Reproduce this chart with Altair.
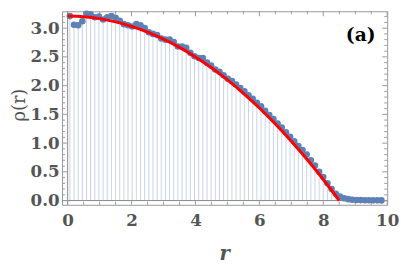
import altair as alt
import pandas as pd

# ---- data ----
r_vals = [0.07, 0.20, 0.33, 0.46, 0.59, 0.72, 0.85, 0.98, 1.11, 1.24,
          1.37, 1.50, 1.63, 1.76, 1.89, 2.02, 2.15, 2.28, 2.41, 2.54,
          2.67, 2.80, 2.93, 3.06, 3.19, 3.32, 3.45, 3.58, 3.71, 3.84,
          3.97, 4.10, 4.23, 4.36, 4.49, 4.62, 4.75, 4.88, 5.01, 5.14,
          5.27, 5.40, 5.53, 5.66, 5.79, 5.92, 6.05, 6.18, 6.31, 6.44,
          6.57, 6.70, 6.83, 6.96, 7.09, 7.22, 7.35, 7.48, 7.61, 7.74,
          7.87, 8.00, 8.13, 8.26, 8.39, 8.52, 8.65, 8.78, 8.91, 9.04,
          9.17, 9.30, 9.43, 9.56, 9.69, 9.82]
rho_vals = [3.21, 3.06, 3.05, 3.12, 3.25, 3.24, 3.19, 3.20, 3.15, 3.19,
            3.21, 3.18, 3.13, 3.07, 3.05, 3.03, 3.07, 3.05, 3.00, 2.93,
            2.90, 2.88, 2.82, 2.80, 2.80, 2.76, 2.68, 2.68, 2.66, 2.57,
            2.51, 2.48, 2.48, 2.40, 2.35, 2.28, 2.24, 2.18, 2.12, 2.08,
            2.02, 1.96, 1.90, 1.83, 1.77, 1.70, 1.64, 1.56, 1.49, 1.42,
            1.34, 1.27, 1.19, 1.11, 1.03, 0.95, 0.88, 0.80, 0.70, 0.61,
            0.50, 0.41, 0.30, 0.20, 0.12, 0.07, 0.04, 0.025, 0.015, 0.01,
            0.008, 0.006, 0.005, 0.004, 0.004, 0.003]

fit_r = [0.0, 0.5, 1.0, 1.5, 2.0, 2.5, 3.0, 3.5, 4.0, 4.5,
         5.0, 5.5, 6.0, 6.5, 7.0, 7.5, 8.0, 8.5]
fit_rho = [3.21, 3.199, 3.166, 3.110, 3.032, 2.932, 2.810, 2.666, 2.499, 2.310,
           2.099, 1.866, 1.611, 1.333, 1.033, 0.711, 0.367, 0.0]

x_major = [0, 2, 4, 6, 8, 10]
x_minor = [0.5, 1, 1.5, 2.5, 3, 3.5, 4.5, 5, 5.5, 6.5, 7, 7.5, 8.5, 9, 9.5]
y_major = [0, 0.5, 1.0, 1.5, 2.0, 2.5, 3.0]
y_minor = [0.1, 0.2, 0.3, 0.4, 0.6, 0.7, 0.8, 0.9, 1.1, 1.2, 1.3, 1.4,
           1.6, 1.7, 1.8, 1.9, 2.1, 2.2, 2.3, 2.4, 2.6, 2.7, 2.8, 2.9,
           3.1, 3.2]

label_text = ["(a)"]
label_x = [9.17]
label_y = [2.88]

# ---- chart ----
W, H = 331, 197
FONT = "DejaVu Serif"
GRAY = "#555555"
FRAME = "#999999"
BLUE = "#5E81B5"

xscale = alt.Scale(domain=[-0.175, 10], nice=False, zero=False)
yscale = alt.Scale(domain=[-0.0735, 3.294], nice=False, zero=False)

xaxis = alt.Axis(values=x_major, format="d", title="r",
                 titleFont=FONT, titleFontStyle="italic", titleFontWeight="bold",
                 titleFontSize=20, titleColor=GRAY, titleX=165, titleY=56,
                 titleBaseline="alphabetic", titleAlign="center",
                 labelFont=FONT, labelFontWeight="bold", labelFontSize=17,
                 labelColor=GRAY, labelPadding=8, ticks=False, domain=False,
                 grid=False, labelOverlap=False, labelFlush=False)
yaxis = alt.Axis(values=y_major, format=".1f", title="ρ(r)",
                 titleFont=FONT, titleFontWeight="normal", titleFontSize=18,
                 titleColor=GRAY, titleX=-43, titleY=95,
                 titleBaseline="middle", titleAlign="center",
                 labelFont=FONT, labelFontWeight="bold", labelFontSize=17,
                 labelColor=GRAY, labelPadding=3, ticks=False, domain=False,
                 grid=False, labelOverlap=False, labelFlush=False)

df = pd.DataFrame({"r": r_vals, "rho": rho_vals})
fit_df = pd.DataFrame({"r": fit_r, "rho": fit_rho})
zero_df = pd.DataFrame({"v": [0]})
lab_df = pd.DataFrame({"x": label_x, "y": label_y, "t": label_text})

X = lambda f: alt.X(f, scale=xscale, axis=xaxis)
Y = lambda f: alt.Y(f, scale=yscale, axis=yaxis)

stems = alt.Chart(df).mark_rule(color="#c7d3e5", strokeWidth=1).encode(
    x=X("r:Q"), y=Y("rho:Q"), y2=alt.datum(0))

vline = alt.Chart(zero_df).mark_rule(color="#888888", strokeWidth=1).encode(x=X("v:Q"))
hline = alt.Chart(zero_df).mark_rule(color="#888888", strokeWidth=1).encode(y=Y("v:Q"))

points = alt.Chart(df).mark_circle(size=45, color=BLUE, opacity=1).encode(
    x=X("r:Q"), y=Y("rho:Q"))

fit = alt.Chart(fit_df).mark_line(color="#ff0000", strokeWidth=3,
                                  interpolate="monotone").encode(
    x=X("r:Q"), y=Y("rho:Q"))

text = alt.Chart(lab_df).mark_text(font=FONT, fontWeight="bold", fontSize=19,
                                   color="black", align="center",
                                   baseline="middle").encode(
    x=X("x:Q"), y=Y("y:Q"), text="t:N")


def yticks(vals, x0, x1):
    return alt.Chart(pd.DataFrame({"v": vals})).mark_rule(
        color=FRAME, strokeWidth=1).encode(
        y=Y("v:Q"), x=alt.value(x0), x2=alt.value(x1))


def xticks(vals, y0, y1):
    return alt.Chart(pd.DataFrame({"v": vals})).mark_rule(
        color=FRAME, strokeWidth=1).encode(
        x=X("v:Q"), y=alt.value(y0), y2=alt.value(y1))


ticks = [
    yticks(y_major, 0, 5), yticks(y_minor, 0, 3),
    yticks(y_major, W, W - 5), yticks(y_minor, W, W - 3),
    xticks(x_major, H, H - 5), xticks(x_minor, H, H - 3),
    xticks(x_major, 0, 5), xticks(x_minor, 0, 3),
]

chart = alt.layer(stems, vline, hline, *ticks, points, fit, text).properties(
    width=W, height=H,
    autosize=alt.AutoSizeParams(type="none"),
    padding={"left": 55, "top": 1, "right": 12, "bottom": 61},
).configure_view(stroke=FRAME, strokeWidth=1)

chart.save("out.html", embed_options={"renderer": "svg", "actions": False})
